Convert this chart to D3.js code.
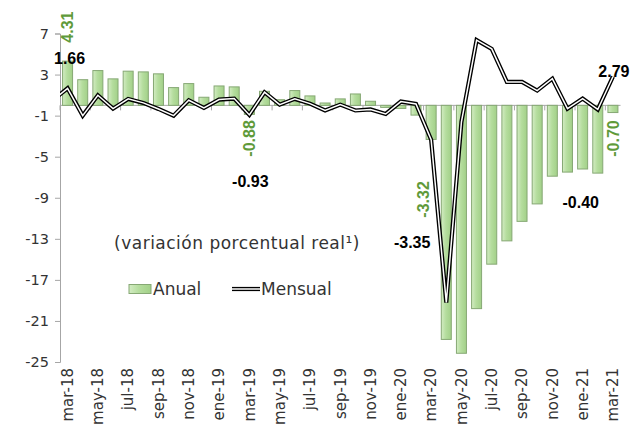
<!DOCTYPE html>
<html lang="es">
<head>
<meta charset="UTF-8">
<title>Variación porcentual real</title>
<style>
  html, body { margin: 0; padding: 0; background: #fff; }
  svg { display: block; font-family: "DejaVu Sans", sans-serif; }
</style>
</head>
<body>
<div id="chart"></div>
<script src="https://d3js.org/d3.v7.min.js"></script>
<script>
// -------- DATA ------------
const months = [
  "mar-18","abr-18","may-18","jun-18","jul-18","ago-18","sep-18","oct-18","nov-18","dic-18",
  "ene-19","feb-19","mar-19","abr-19","may-19","jun-19","jul-19","ago-19","sep-19","oct-19",
  "nov-19","dic-19","ene-20","feb-20","mar-20","abr-20","may-20","jun-20","jul-20","ago-20",
  "sep-20","oct-20","nov-20","dic-20","ene-21","feb-21","mar-21"
]
const anual = [
  4.31, 2.5, 3.39, 2.58, 3.33, 3.26, 3.07, 1.73, 2.12, 0.79,
  1.89, 1.80, -0.88, 1.37, 0.55, 1.44, 0.92, 0.23, 0.63, 1.11,
  0.40, -0.2, -0.3, -0.95, -3.32, -22.8, -24.15, -19.8, -15.47, -13.2,
  -11.3, -9.6, -6.9, -6.5, -6.2, -6.6, -0.70
]
const mensual = [
  1.66, -1.0, 0.98, -0.32, 0.63, 0.24, -0.35, -1.0, 0.5, -0.25,
  0.56, 0.66, -0.93, 1.28, 0.07, 0.63, 0.17, -0.5, 0.07, -0.5,
  -0.4, -0.84, 0.37, 0.14, -3.35, -19.2, -1.6, 6.35, 5.5, 2.28,
  2.28, 1.44, 2.6, -0.32, 0.66, -0.40, 2.79
]
// value of the month before the first one (line enters from the left edge)
const mensualPrev = 0.47
const yTicks = [7, 3, -1, -5, -9, -13, -17, -21, -25]

// labelled points: month, text offset
const anualLabels = [
  {month: "mar-18", dx: 0, dy: -34},
  {month: "mar-19", dx: 0, dy: 24},
  {month: "mar-20", dx: -8, dy: 60},
  {month: "mar-21", dx: 0, dy: 26}
]
const mensualLabels = [
  {month: "mar-18", dx: 2, dy: -30},
  {month: "mar-19", dx: 1, dy: 66},
  {month: "mar-20", dx: -19, dy: 103},
  {month: "feb-21", dx: -17, dy: 93},
  {month: "mar-21", dx: 1, dy: -5}
]

// -------- LAYOUT ------------
const W = 641, H = 428
const margin = {top: 33.5, right: 20.5, bottom: 66, left: 60}

const svg = d3.select("#chart").append("svg")
  .attr("width", W).attr("height", H)

const defs = svg.append("defs")
const grad = defs.append("linearGradient").attr("id", "barGrad")
  .attr("x1", "0").attr("x2", "1").attr("y1", "0").attr("y2", "0")
grad.append("stop").attr("offset", "0%").attr("stop-color", "#d3ecc3")
grad.append("stop").attr("offset", "45%").attr("stop-color", "#b5dd9e")
grad.append("stop").attr("offset", "100%").attr("stop-color", "#a2d088")

defs.append("clipPath").attr("id", "plotClip")
  .append("rect")
  .attr("x", margin.left).attr("y", 0)
  .attr("width", W - margin.left - margin.right).attr("height", H)

// -------- SCALES ------------
const x = d3.scaleBand()
  .domain(months)
  .range([margin.left, W - margin.right])
  .paddingInner(0.34)
  .paddingOuter(0.17)

const y = d3.scaleLinear()
  .domain([-25, 7])
  .range([H - margin.bottom, margin.top])

const cx = m => x(m) + x.bandwidth() / 2
const fmt = v => v.toFixed(2)   // plain hyphen minus, like the original

// -------- AXES --------------
const axisColor = "#a6a6a6"
const textColor = "#333"

const yAxis = svg.append("g")
  .attr("transform", `translate(${margin.left},0)`)
  .call(d3.axisLeft(y).tickValues(yTicks).tickSize(5).tickPadding(6).tickFormat(d => String(d)))
yAxis.select(".domain").attr("stroke", axisColor)
yAxis.selectAll(".tick line").attr("stroke", axisColor)
yAxis.selectAll(".tick text")
  .attr("fill", textColor)
  .style("font-size", "14.5px")
  .style("font-family", "'DejaVu Sans', sans-serif")

// category axis at zero
const zeroY = y(0)
svg.append("line")
  .attr("x1", margin.left).attr("x2", W - margin.right)
  .attr("y1", zeroY).attr("y2", zeroY)
  .attr("stroke", axisColor)

const boundaries = d3.range(0, months.length + 1, 2)
svg.append("g").selectAll("line")
  .data(boundaries)
  .join("line")
  .attr("x1", k => x.range()[0] + k * x.step())
  .attr("x2", k => x.range()[0] + k * x.step())
  .attr("y1", zeroY).attr("y2", zeroY + 5)
  .attr("stroke", axisColor)

// month labels at the bottom, every second month
svg.append("g").selectAll("text")
  .data(months.filter((m, i) => i % 2 === 0))
  .join("text")
  .attr("transform", m => `translate(${cx(m)},${y(-25) + 6}) rotate(-90)`)
  .attr("text-anchor", "end")
  .attr("dy", "0.35em")
  .attr("fill", textColor)
  .style("font-size", "15px")
  .text(m => m)

// -------- BARS ------------
svg.append("g").selectAll("rect")
  .data(months.map((m, i) => ({m, v: anual[i]})))
  .join("rect")
  .attr("x", d => x(d.m))
  .attr("y", d => y(Math.max(0, d.v)))
  .attr("width", x.bandwidth())
  .attr("height", d => Math.abs(y(d.v) - y(0)))
  .attr("fill", "url(#barGrad)")
  .attr("stroke", "#86a874")
  .attr("stroke-width", 1)

// -------- LINE ------------
const linePts = [{px: cx(months[0]) - x.step(), v: mensualPrev}]
  .concat(months.map((m, i) => ({px: cx(m), v: mensual[i]})))
const line = d3.line().x(d => d.px).y(d => y(d.v))

const lineG = svg.append("g").attr("clip-path", "url(#plotClip)")
lineG.append("path").datum(linePts)
  .attr("d", line).attr("fill", "none")
  .attr("stroke", "#000").attr("stroke-width", 4.2)
  .attr("stroke-linejoin", "miter")
lineG.append("path").datum(linePts)
  .attr("d", line).attr("fill", "none")
  .attr("stroke", "#fff").attr("stroke-width", 1.5)
  .attr("stroke-linejoin", "miter")

// -------- DATA LABELS ------------
svg.append("g").selectAll("text")
  .data(anualLabels)
  .join("text")
  .attr("transform", d => {
    const v = anual[months.indexOf(d.month)]
    return `translate(${cx(d.month) + d.dx},${y(v) + d.dy}) rotate(-90)`
  })
  .attr("text-anchor", "middle")
  .attr("dy", "0.35em")
  .attr("fill", "#5f9a3a")
  .style("font-family", "'Liberation Sans', Arial, sans-serif")
  .style("font-weight", "bold")
  .style("font-size", "16px")
  .text(d => fmt(anual[months.indexOf(d.month)]))

svg.append("g").selectAll("text")
  .data(mensualLabels)
  .join("text")
  .attr("x", d => cx(d.month) + d.dx)
  .attr("y", d => y(mensual[months.indexOf(d.month)]) + d.dy)
  .attr("text-anchor", "middle")
  .attr("dy", "0.35em")
  .attr("fill", "#000")
  .style("font-family", "'Liberation Sans', Arial, sans-serif")
  .style("font-weight", "bold")
  .style("font-size", "16px")
  .text(d => fmt(mensual[months.indexOf(d.month)]))

// -------- TITLE + LEGEND ------------
svg.append("text")
  .attr("x", 237).attr("y", 243)
  .attr("text-anchor", "middle")
  .attr("dy", "0.35em")
  .attr("fill", textColor)
  .style("font-size", "17px")
  .style("letter-spacing", "0.5px")
  .text("(variación porcentual real¹)")

const legend = svg.append("g").attr("transform", "translate(129,289)")
legend.append("rect")
  .attr("x", 0).attr("y", -4.5).attr("width", 22).attr("height", 9)
  .attr("fill", "url(#barGrad)").attr("stroke", "#86a874")
legend.append("text")
  .attr("x", 24).attr("dy", "0.35em")
  .attr("fill", textColor).style("font-size", "17px")
  .text("Anual")
legend.append("line")
  .attr("x1", 103).attr("x2", 131).attr("stroke", "#000").attr("stroke-width", 4.2)
legend.append("line")
  .attr("x1", 103).attr("x2", 131).attr("stroke", "#fff").attr("stroke-width", 1.5)
legend.append("text")
  .attr("x", 132).attr("dy", "0.35em")
  .attr("fill", textColor).style("font-size", "17px")
  .text("Mensual")
</script>
</body>
</html>
